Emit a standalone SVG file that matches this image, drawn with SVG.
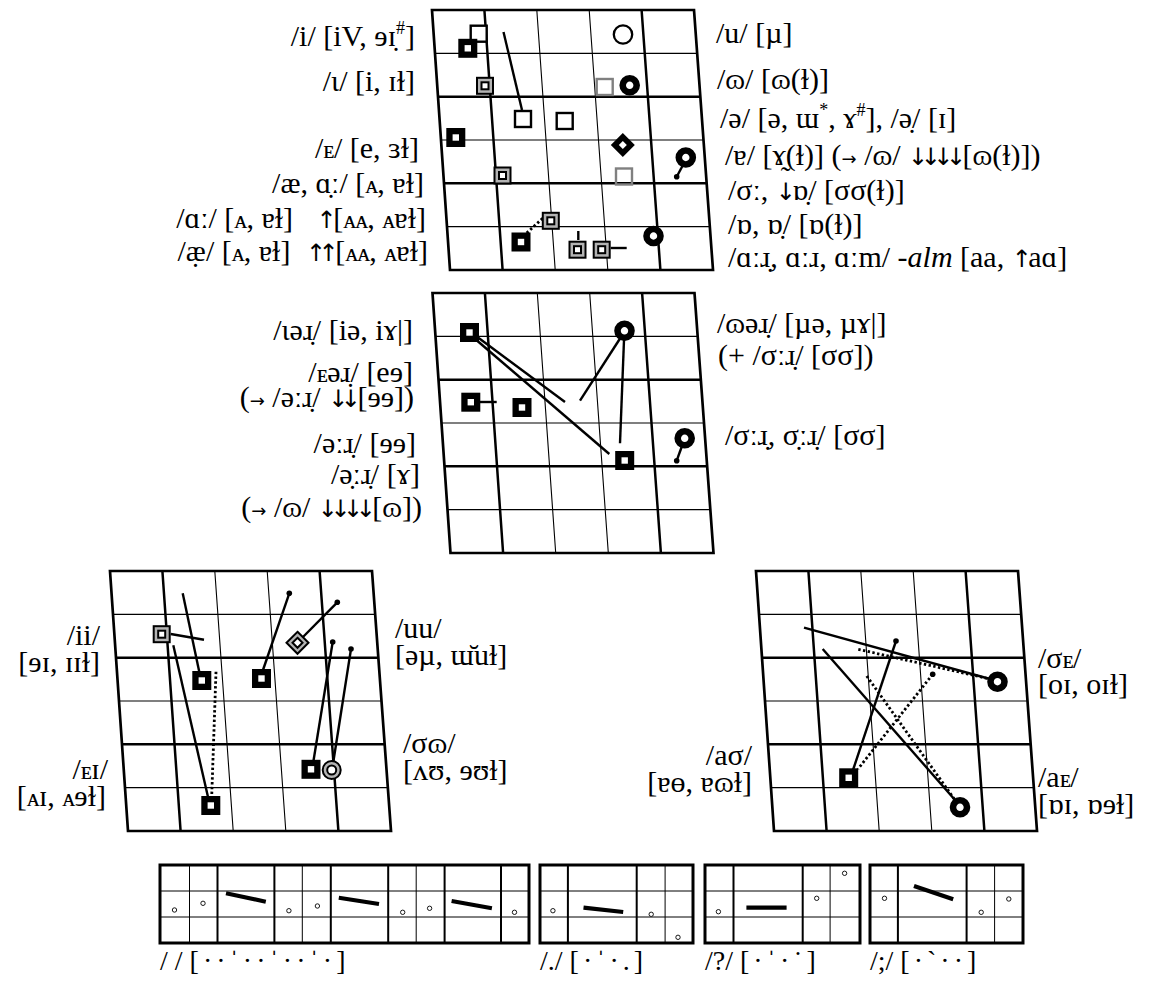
<svg xmlns="http://www.w3.org/2000/svg" xmlns:xlink="http://www.w3.org/1999/xlink" width="1162" height="985" viewBox="0 0 1162 985">
<style>
text{font-family:"Liberation Serif","DejaVu Serif",serif;font-size:30px;fill:#000}
.e{text-anchor:end}
.ar{font-family:"DejaVu Sans",sans-serif;font-size:24px;letter-spacing:-7.5px}
.ra{font-family:"DejaVu Sans",sans-serif;font-size:18px}
.k{font-size:26px;letter-spacing:-1px}
.go{fill:none;stroke:#000;stroke-width:2.7;stroke-linejoin:miter}
.gk{fill:none;stroke:#000;stroke-width:2.5}
.gt{fill:none;stroke:#000;stroke-width:1.1}
.ln{fill:none;stroke:#000;stroke-width:2.4}
.dt{fill:none;stroke:#000;stroke-width:2.8;stroke-dasharray:2.4 2.4}
.bx{fill:#fff;stroke:#000;stroke-width:3}
.bk{fill:none;stroke:#000;stroke-width:2}
.bt{fill:none;stroke:#000;stroke-width:1}
.sc{fill:#fff;stroke:#000;stroke-width:0.9}
.bar{stroke:#000;stroke-width:4.2}
.sl{font-size:28px}
</style>
<defs>
<g id="grid">
<path class="go" d="M0,0 L262,0 L281,260 L18,260 Z"/>
<path class="gk" d="M6,86.67 L268.3,86.67 M12,173.33 L274.7,173.33 M52.4,0 L70.6,260 M209.6,0 L228.4,260"/>
<path class="gt" d="M3,43.33 L265.2,43.33 M9,130 L271.5,130 M15,216.67 L277.8,216.67 M104.8,0 L123.2,260 M157.2,0 L175.8,260"/>
</g>
<g id="bsq"><rect x="-9.5" y="-9.5" width="19" height="19" fill="#000"/><rect x="-3.2" y="-3.2" width="6.4" height="6.4" fill="#fff"/></g>
<rect id="osq" x="-8" y="-8" width="16" height="16" fill="#fff" stroke="#000" stroke-width="2.4"/>
<rect id="gsq" x="-8" y="-8" width="16" height="16" fill="none" stroke="#808080" stroke-width="2.4"/>
<g id="dsq"><rect x="-8" y="-8" width="16" height="16" fill="#b3b3b3" stroke="#000" stroke-width="2"/><rect x="-3.5" y="-3.5" width="7" height="7" fill="#fff" stroke="#000" stroke-width="2"/></g>
<circle id="ring" r="7" fill="#fff" stroke="#000" stroke-width="6.6"/>
<circle id="ocirc" r="9.2" fill="none" stroke="#000" stroke-width="2.3"/>
<g id="dia"><path d="M0,-12 L12,0 L0,12 L-12,0Z" fill="#000"/><path d="M0,-4 L4,0 L0,4 L-4,0Z" fill="#fff"/></g>
<g id="gdia"><path d="M0,-11 L11,0 L0,11 L-11,0Z" fill="#b3b3b3" stroke="#000" stroke-width="2"/><path d="M0,-5 L5,0 L0,5 L-5,0Z" fill="#fff" stroke="#000" stroke-width="2"/></g>
<g id="gring"><circle r="9" fill="#b3b3b3" stroke="#000" stroke-width="2"/><circle r="4.5" fill="#fff" stroke="#000" stroke-width="2"/></g>
<circle id="dot" r="2.8" fill="#000"/>
</defs>

<g id="chart-monophthongs"><use xlink:href="#grid" href="#grid" x="432" y="10"/></g>
<g id="chart-r"><use xlink:href="#grid" href="#grid" x="432.5" y="293"/></g>
<g id="chart-diph1"><use xlink:href="#grid" href="#grid" x="110" y="571"/></g>
<g id="chart-diph2"><use xlink:href="#grid" href="#grid" x="756" y="571"/></g>

<g id="connectors">
<path class="ln" d="M503.5,32 L522,110"/>
<path class="ln" d="M683,165 L676.7,176.7"/>
<path class="dt" d="M526.7,233 L543,218"/>
<path class="ln" d="M578.3,240 L578.3,231"/>
<path class="ln" d="M610.7,248 L626.7,248"/>
<path class="ln" d="M476,336 L565,402"/>
<path class="ln" d="M474,338 L609.3,454"/>
<path class="ln" d="M621,337 L580,400.7"/>
<path class="ln" d="M624,340 L620,443.3"/>
<path class="ln" d="M478,402 L496.7,402"/>
<path class="ln" d="M682,446 L676.7,460.7"/>
<path class="ln" d="M170.7,634 L204,639.7"/>
<path class="ln" d="M173.3,645.3 L208,797"/>
<path class="ln" d="M182.7,593.3 L199.3,672"/>
<path class="dt" d="M216,671.7 L211.7,796.7"/>
<path class="ln" d="M263,670 L289.3,593.3"/>
<path class="ln" d="M303,637 L337.3,602.3"/>
<path class="ln" d="M332.7,642 L313.3,762"/>
<path class="ln" d="M351,649 L333.3,762"/>
<path class="ln" d="M804,627.7 L990,679"/>
<path class="dt" d="M858.3,649.3 L990,679"/>
<path class="ln" d="M822.7,649 L955,800"/>
<path class="ln" d="M896,641 L853,770"/>
<path class="dt" d="M932.7,674.3 L858,769"/>
<path class="dt" d="M866.7,676 L955,800"/>
</g>

<g id="markers-top">
<use href="#osq" x="478.7" y="33.7"/>
<use href="#bsq" x="467.8" y="48.3"/>
<use href="#osq" x="523" y="119"/>
<use href="#osq" x="564.7" y="121"/>
<use href="#ocirc" x="623" y="34.5"/>
<use href="#dsq" x="485" y="85.8"/>
<use href="#gsq" x="604.7" y="87"/>
<use href="#ring" x="629.7" y="85.3"/>
<use href="#bsq" x="455.8" y="137.5"/>
<use href="#dia" x="622.8" y="145"/>
<use href="#ring" x="685.8" y="157.5"/>
<use href="#dot" x="676.7" y="176.7"/>
<use href="#dsq" x="502.5" y="175.5"/>
<use href="#gsq" x="624" y="176.5"/>
<use href="#dsq" x="550.8" y="220.8"/>
<use href="#bsq" x="521" y="242"/>
<use href="#dsq" x="577.5" y="249.7"/>
<use href="#dsq" x="601.7" y="249.7"/>
<use href="#ring" x="653.5" y="236"/>
</g>
<g id="markers-middle">
<use href="#bsq" x="469.5" y="332.5"/>
<use href="#ring" x="624.5" y="330.8"/>
<use href="#bsq" x="470.8" y="402.2"/>
<use href="#bsq" x="522" y="407.5"/>
<use href="#bsq" x="624.7" y="460.5"/>
<use href="#ring" x="684.7" y="438.3"/>
<use href="#dot" x="676.7" y="460.7"/>
</g>
<g id="markers-bl">
<use href="#dsq" x="161.7" y="634.2"/>
<use href="#bsq" x="201.8" y="680.5"/>
<use href="#bsq" x="210.8" y="805.5"/>
<use href="#bsq" x="261.5" y="678.5"/>
<use href="#dot" x="289.3" y="593.3"/>
<use href="#gdia" x="297.5" y="642.8"/>
<use href="#dot" x="337.3" y="602.3"/>
<use href="#dot" x="332.7" y="642"/>
<use href="#dot" x="351" y="649"/>
<use href="#bsq" x="311" y="769.3"/>
<use href="#gring" x="331.7" y="770"/>
</g>
<g id="markers-br">
<use href="#ring" x="997.5" y="681.7"/>
<use href="#ring" x="960" y="807.3"/>
<use href="#bsq" x="848.7" y="777.8"/>
<use href="#dot" x="896" y="641"/>
<use href="#dot" x="932.7" y="674.3"/>
</g>

<g id="labels-top-left">
<text class="e" x="415" y="46">/i/ [iV, ɘɪ̣<tspan font-size="18" dy="-12">#</tspan><tspan dy="12">]</tspan></text>
<text class="e" x="415" y="91">/ɩ/ [i, ɪɫ]</text>
<text class="e" x="419" y="158">/<tspan class="k">ᴇ</tspan>/ [e, ɜɫ]</text>
<text class="e" x="424" y="193">/æ, ɑ̣ː/ [<tspan class="k">ᴀ</tspan>, ɐɫ]</text>
<text class="e" x="426" y="228">/ɑː/ [<tspan class="k">ᴀ</tspan>, ɐɫ] <tspan class="ar" dx="16">↑</tspan><tspan dx="4">[</tspan><tspan class="k">ᴀᴀ</tspan>, <tspan class="k">ᴀ</tspan>ɐɫ]</text>
<text class="e" x="428" y="261">/æ̣/ [<tspan class="k">ᴀ</tspan>, ɐɫ] <tspan class="ar" dx="8">↑↑</tspan><tspan dx="4">[</tspan><tspan class="k">ᴀᴀ</tspan>, <tspan class="k">ᴀ</tspan>ɐɫ]</text>
</g>
<g id="labels-top-right">
<text x="716" y="43">/u/ [µ]</text>
<text x="717" y="89">/ɷ/ [ɷ(ɫ)]</text>
<text x="720" y="128">/ə/ [ə, ɯ<tspan font-size="18" dy="-12">*</tspan><tspan dy="12">, ɤ</tspan><tspan font-size="18" dy="-12">#</tspan><tspan dy="12">], /ə̣/ [ɪ]</tspan></text>
<text x="725" y="165">/ɐ/ [ɤ̰(ɫ)] (<tspan class="ra">→</tspan> /ɷ/ <tspan class="ar">↓↓↓↓</tspan><tspan dx="4">[ɷ(ɫ)])</tspan></text>
<text x="728" y="200">/σː, <tspan class="ar">↓</tspan><tspan dx="4">ɒ̣/ [σσ(ɫ)]</tspan></text>
<text x="728" y="234">/ɒ, ɒ̣/ [ɒ(ɫ)]</text>
<text x="728" y="267">/ɑːɹ̣, ɑːɹ, ɑːm/ <tspan font-style="italic">-alm</tspan> [aa, <tspan class="ar">↑</tspan><tspan dx="4">aɑ]</tspan></text>
</g>
<g id="labels-middle-left">
<text class="e" x="413" y="340">/ɩəɹ̣/ [iə, iɤ|]</text>
<text class="e" x="413" y="382">/<tspan class="k">ᴇ</tspan>əɹ̣/ [eɘ]</text>
<text class="e" x="414" y="407">(<tspan class="ra">→</tspan> /əːɹ̣/ <tspan class="ar">↓↓</tspan><tspan dx="4">[ɘɘ])</tspan></text>
<text class="e" x="416" y="453">/əːɹ̣/ [ɘɘ]</text>
<text class="e" x="420" y="484">/ə̣ːɹ̣/ [ɤ]</text>
<text class="e" x="422" y="517">(<tspan class="ra">→</tspan> /ɷ/ <tspan class="ar">↓↓↓↓</tspan><tspan dx="4">[ɷ])</tspan></text>
</g>
<g id="labels-middle-right">
<text x="717" y="333">/ɷəɹ̣/ [µə, µɤ|]</text>
<text x="718" y="365">(+ /σːɹ̣/ [σσ])</text>
<text x="725" y="445">/σːɹ̣, σ̣ːɹ̣/ [σσ]</text>
</g>
<g id="labels-bottom-left">
<text class="e" x="100" y="645">/ii/</text>
<text class="e" x="100" y="672">[ɘɪ, ɪɪɫ]</text>
<text class="e" x="108" y="779">/<tspan class="k">ᴇ</tspan>ɪ/</text>
<text class="e" x="106" y="806">[<tspan class="k">ᴀ</tspan>ɪ, <tspan class="k">ᴀ</tspan>ɘɫ]</text>
<text x="395" y="638">/uu/</text>
<text x="395" y="665">[əµ, ɯ̆uɫ]</text>
<text x="403" y="753">/σɷ/</text>
<text x="403" y="780">[ʌʊ, ɘʊɫ]</text>
</g>
<g id="labels-bottom-right">
<text x="1038" y="668">/σ<tspan class="k">ᴇ</tspan>/</text>
<text x="1038" y="694">[oɪ, oɪɫ]</text>
<text x="1038" y="787">/a<tspan class="k">ᴇ</tspan>/</text>
<text x="1038" y="814">[ɒɪ, ɒɘɫ]</text>
<text class="e" x="752" y="765">/aσ/</text>
<text class="e" x="752" y="792">[ɐɵ, ɐɷɫ]</text>
</g>

<g id="intonation-1">
<rect class="bx" x="160" y="865" width="369" height="78"/>
<path class="bt" d="M160,891 H529 M160,917 H529 M189.5,865 V943 M302.3,865 V943 M416.2,865 V943"/>
<path class="bk" d="M217.5,865 V943 M274.4,865 V943 M330.8,865 V943 M388.2,865 V943 M444.6,865 V943 M501,865 V943"/>
<circle class="sc" cx="174.5" cy="910" r="2.2"/>
<circle class="sc" cx="203" cy="903.3" r="2.2"/>
<circle class="sc" cx="288.9" cy="910.7" r="2.2"/>
<circle class="sc" cx="317.4" cy="906" r="2.2"/>
<circle class="sc" cx="402.7" cy="912.3" r="2.2"/>
<circle class="sc" cx="429.6" cy="908.3" r="2.2"/>
<circle class="sc" cx="514.5" cy="912.3" r="2.2"/>
<path class="bar" d="M226,893.3 L265.8,901.7 M338.8,897.7 L379,904 M451.6,901 L491.9,908.3"/>
<text class="sl" x="160" y="970">/ / <tspan letter-spacing="4">[··ˈ··ˈ··ˈ·]</tspan></text>
</g>
<g id="intonation-2">
<rect class="bx" x="540" y="865" width="153" height="78"/>
<path class="bt" d="M540,891 H693 M540,917 H693 M665.1,865 V943"/>
<path class="bk" d="M567.9,865 V943 M636.7,865 V943"/>
<circle class="sc" cx="552.9" cy="910.7" r="2.2"/>
<circle class="sc" cx="651.2" cy="914.3" r="2.2"/>
<circle class="sc" cx="678" cy="937.3" r="2.2"/>
<path class="bar" d="M583.5,907.7 L623.2,912"/>
<text class="sl" x="540" y="970">/./ <tspan letter-spacing="4">[·ˈ·.]</tspan></text>
</g>
<g id="intonation-3">
<rect class="bx" x="705" y="865" width="155" height="78"/>
<path class="bt" d="M705,891 H860 M705,917 H860 M830.1,865 V943"/>
<path class="bk" d="M733.5,865 V943 M802.7,865 V943"/>
<circle class="sc" cx="718.4" cy="911.7" r="2.2"/>
<circle class="sc" cx="816.7" cy="898.3" r="2.2"/>
<circle class="sc" cx="844.6" cy="873.3" r="2.2"/>
<path class="bar" d="M746.4,907.7 L786.6,907.7"/>
<text class="sl" x="705" y="970">/?/ <tspan letter-spacing="4">[·ˈ·˙]</tspan></text>
</g>
<g id="intonation-4">
<rect class="bx" x="870" y="865" width="153" height="78"/>
<path class="bt" d="M870,891 H1023 M870,917 H1023 M994.6,865 V943"/>
<path class="bk" d="M897.9,865 V943 M966.6,865 V943"/>
<circle class="sc" cx="884.5" cy="898.3" r="2.2"/>
<circle class="sc" cx="981.2" cy="912.3" r="2.2"/>
<circle class="sc" cx="1008.8" cy="899" r="2.2"/>
<path class="bar" d="M914,886 L953.2,899.3"/>
<text class="sl" x="870" y="970">/;/ <tspan letter-spacing="4">[·ˋ··]</tspan></text>
</g>
</svg>
